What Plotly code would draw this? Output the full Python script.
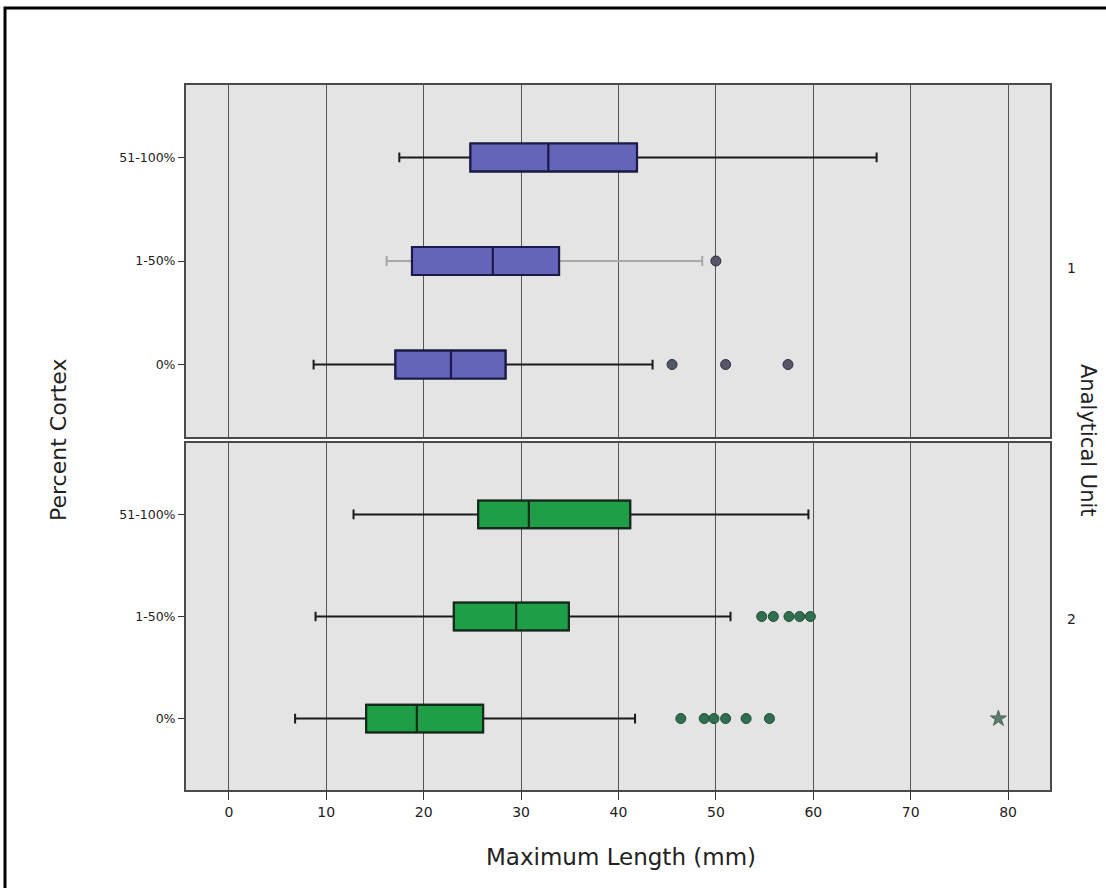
import plotly.graph_objects as go

categories = ["0%", "1-50%", "51-100%"]

# Analytical Unit 1
u1_lowerfence = [8.7, 16.2, 17.5]
u1_q1 = [17.1, 18.8, 24.8]
u1_median = [22.8, 27.1, 32.8]
u1_q3 = [28.4, 33.9, 41.9]
u1_upperfence = [43.5, 48.6, 66.5]
u1_out_0 = [45.5, 51.0, 57.4]
u1_out_1_50 = [50.0]

# Analytical Unit 2
u2_lowerfence = [6.8, 8.9, 12.8]
u2_q1 = [14.1, 23.1, 25.6]
u2_median = [19.3, 29.5, 30.8]
u2_q3 = [26.1, 34.9, 41.2]
u2_upperfence = [41.7, 51.5, 59.5]
u2_out_0 = [46.4, 48.8, 49.8, 51.0, 53.1, 55.5]
u2_out_1_50 = [54.7, 55.9, 57.5, 58.6, 59.7]
u2_extreme_0 = [79.0]

x_ticks = [0, 10, 20, 30, 40, 50, 60, 70, 80]

W, H = 1106, 888
def px(x): return x / W
def py(y): return 1 - y / H

BLUE = "#6464B9"
BLUE_LINE = "#1a1a4a"
GREEN = "#1f9e48"
GREEN_LINE = "#142a1a"
FONT = "DejaVu Sans"

fig = go.Figure()

def add_box(xa, ya, i, lf, q1, md, q3, uf, fill, line, whisk=None):
    wcol = whisk if whisk is not None else "#1a1a1a"
    # whiskers + caps
    fig.add_trace(go.Box(
        y=[categories[i]], q1=[q1[i]], median=[md[i]], q3=[q3[i]],
        lowerfence=[lf[i]], upperfence=[uf[i]], orientation="h",
        fillcolor=fill, line=dict(color=wcol, width=2), width=0.27,
        whiskerwidth=0.35, boxpoints=False, hoverinfo="skip",
        showlegend=False, xaxis=xa, yaxis=ya))
    # box body drawn on top
    fig.add_trace(go.Box(
        y=[categories[i]], q1=[q1[i]], median=[md[i]], q3=[q3[i]],
        lowerfence=[q1[i]], upperfence=[q3[i]], orientation="h",
        fillcolor=fill, line=dict(color=line, width=2.2), width=0.27,
        whiskerwidth=0.0, boxpoints=False, hoverinfo="skip",
        showlegend=False, xaxis=xa, yaxis=ya))

for i in range(3):
    add_box("x", "y", i, u1_lowerfence, u1_q1, u1_median, u1_q3, u1_upperfence,
            BLUE, BLUE_LINE, whisk="#a8a8a8" if i == 1 else None)
    add_box("x2", "y2", i, u2_lowerfence, u2_q1, u2_median, u2_q3, u2_upperfence,
            GREEN, GREEN_LINE)

def add_pts(xs, cat, xa, ya, color, lcolor, symbol="circle", size=10):
    fig.add_trace(go.Scatter(
        x=xs, y=[cat] * len(xs), mode="markers",
        marker=dict(color=color, size=size, symbol=symbol,
                    line=dict(color=lcolor, width=1)),
        hoverinfo="skip", showlegend=False, xaxis=xa, yaxis=ya))

add_pts(u1_out_0, "0%", "x", "y", "#56566a", "#2a2a3a")
add_pts(u1_out_1_50, "1-50%", "x", "y", "#56566a", "#2a2a3a")
add_pts(u2_out_0, "0%", "x2", "y2", "#2f6e4e", "#1e4a33")
add_pts(u2_out_1_50, "1-50%", "x2", "y2", "#2f6e4e", "#1e4a33")
add_pts(u2_extreme_0, "0%", "x2", "y2", "#5d7d6c", "#4a6656", symbol="star", size=12)

xdom = [px(186), px(1050)]
common_x = dict(domain=xdom, range=[-4.4, 84.3], tickvals=x_ticks,
                showgrid=True, gridcolor="#555555", gridwidth=1.3,
                zeroline=False, showline=True, mirror=True,
                linecolor="#4a4a4a", linewidth=2,
                tickfont=dict(family=FONT, size=14, color="#222"))
common_y = dict(type="category", categoryorder="array", categoryarray=categories,
                range=[-0.7, 2.7], showgrid=False, zeroline=False,
                showline=True, mirror=True, linecolor="#4a4a4a", linewidth=2,
                ticks="outside", ticklen=6, tickcolor="#333",
                tickfont=dict(family=FONT, size=12.5, color="#222"))

def ann(text, x, y, size, angle=0):
    return dict(text=text, x=px(x), y=py(y), xref="paper", yref="paper",
                xanchor="center", yanchor="middle", showarrow=False,
                textangle=angle, font=dict(family=FONT, size=size, color="#222"))

fig.update_layout(
    width=W, height=H, autosize=False,
    margin=dict(l=0, r=0, t=0, b=0),
    paper_bgcolor="white", plot_bgcolor="#e4e4e4",
    boxmode="overlay",
    xaxis=dict(common_x, anchor="y", showticklabels=False, ticks="", matches="x2"),
    yaxis=dict(common_y, anchor="x", domain=[py(437), py(85)]),
    xaxis2=dict(common_x, anchor="y2", ticks="outside", ticklen=8, tickcolor="#333"),
    yaxis2=dict(common_y, anchor="x2", domain=[py(790), py(443)]),
    annotations=[
        ann("Maximum Length (mm)", 621, 857, 23),
        ann("Percent Cortex", 58, 440, 22, -90),
        ann("Analytical Unit", 1088, 440, 21, 90),
        ann("1", 1071, 268, 14),
        ann("2", 1071, 619, 14),
    ],
    shapes=[
        dict(type="rect", xref="paper", yref="paper", x0=px(5), x1=1.05,
             y0=-0.05, y1=py(8), line=dict(color="black", width=3)),
    ],
)

fig.write_html("out.html")
